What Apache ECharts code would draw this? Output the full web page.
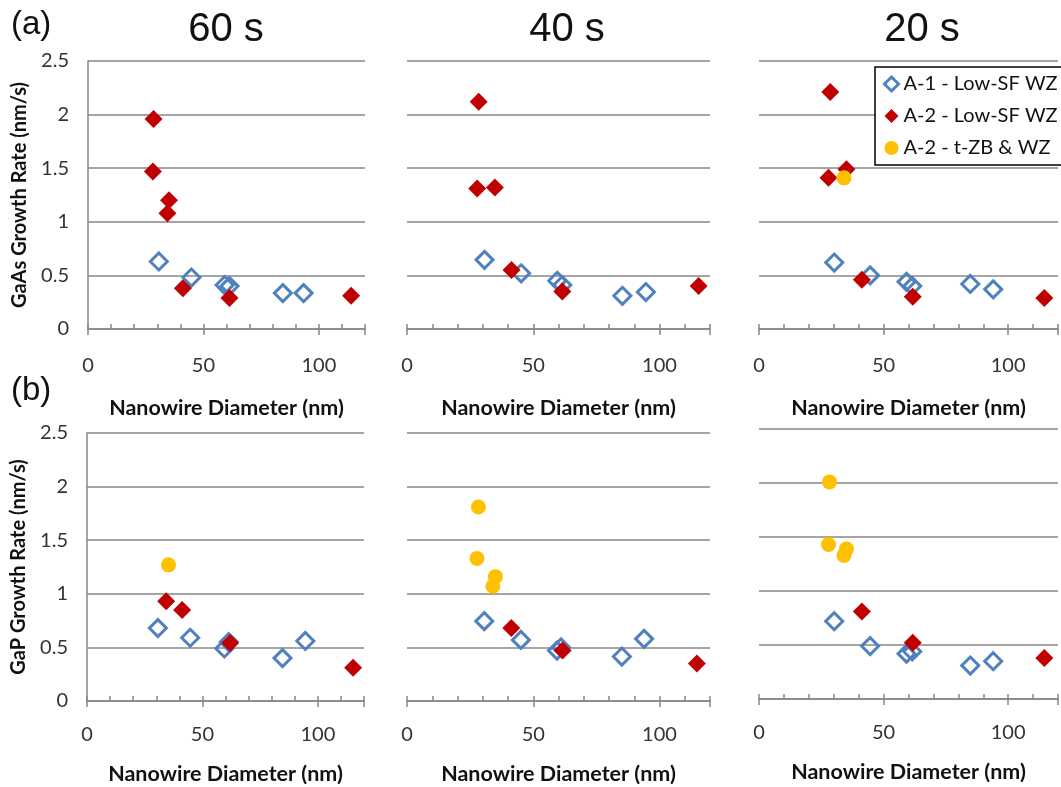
<!DOCTYPE html>
<html><head><meta charset="utf-8">
<script src="https://cdn.jsdelivr.net/npm/echarts@6/dist/echarts.min.js"></script>
<style>html,body{margin:0;padding:0;background:#fff}#c{width:1061px;height:787px}</style>
</head><body><div id="c"></div>
<script>
// ---- data ----
const seriesNames = ['A-1 - Low-SF WZ', 'A-2 - Low-SF WZ', 'A-2 - t-ZB & WZ'];
const timeLabels = ['60 s', '40 s', '20 s'];
const panelLabels = ['(a)', '(b)'];
const yAxisNames = ['GaAs Growth Rate (nm/s)', 'GaP Growth Rate (nm/s)'];
const xAxisName = 'Nanowire Diameter (nm)';
const xRange = [0, 120];
const yRange = [0, 2.5];

// GaAs (row a)
const gaas60_A1 = [[30.7,0.63],[44.8,0.48],[59.2,0.41],[61.3,0.40],[84.4,0.335],[93.4,0.335]];
const gaas60_A2 = [[28.4,1.96],[28.1,1.47],[35.1,1.20],[34.4,1.08],[41.1,0.38],[61.3,0.29],[114,0.31]];
const gaas60_A2t = [];
const gaas40_A1 = [[30.7,0.645],[45.2,0.52],[59.5,0.45],[61.5,0.41],[85.3,0.31],[94.6,0.345]];
const gaas40_A2 = [[28.4,2.12],[27.8,1.31],[34.8,1.32],[41.4,0.55],[61.5,0.35],[115.5,0.40]];
const gaas40_A2t = [];
const gaas20_A1 = [[30.2,0.62],[44.6,0.50],[59.2,0.44],[61.5,0.40],[84.8,0.42],[94.0,0.37]];
const gaas20_A2 = [[28.6,2.21],[27.9,1.41],[35.1,1.49],[41.3,0.46],[61.7,0.30],[114.5,0.29]];
const gaas20_A2t = [[34.1,1.41]];
// GaP (row b)
const gap60_A1 = [[30.7,0.68],[44.7,0.59],[59.5,0.49],[61.4,0.55],[84.7,0.40],[94.6,0.56]];
const gap60_A2 = [[34.3,0.93],[41.2,0.85],[62.0,0.54],[115.3,0.31]];
const gap60_A2t = [[35.3,1.27]];
const gap40_A1 = [[30.6,0.745],[45.1,0.57],[59.4,0.47],[61.0,0.50],[85.1,0.415],[93.9,0.58]];
const gap40_A2 = [[41.3,0.68],[61.6,0.47],[114.8,0.35]];
const gap40_A2t = [[28.3,1.81],[27.7,1.33],[35.0,1.16],[34.0,1.07]];
const gap20_A1 = [[30.2,0.72],[44.6,0.49],[59.2,0.42],[61.5,0.44],[84.8,0.31],[94.0,0.35]];
const gap20_A2 = [[41.3,0.81],[61.7,0.52],[114.5,0.38]];
const gap20_A2t = [[28.3,2.01],[27.9,1.43],[35.1,1.39],[34.1,1.33]];

const panels = [
  [gaas60_A1, gaas60_A2, gaas60_A2t],
  [gaas40_A1, gaas40_A2, gaas40_A2t],
  [gaas20_A1, gaas20_A2, gaas20_A2t],
  [gap60_A1, gap60_A2, gap60_A2t],
  [gap40_A1, gap40_A2, gap40_A2t],
  [gap20_A1, gap20_A2, gap20_A2t]
];

// ---- layout / style ----
const grids = [
  {left: 88, top: 61, width: 277, height: 268},
  {left: 407, top: 61, width: 303, height: 268},
  {left: 759, top: 61, width: 304, height: 268},
  {left: 87, top: 433, width: 277, height: 268},
  {left: 407, top: 433, width: 303, height: 268},
  {left: 759, top: 429, width: 304, height: 270}
];
const FONT = 'Lato';
const GRAY = '#878787';
const BLUE = '#4F81BD', RED = '#C00000', YELLOW = '#FFC000';

const xAxes = [], yAxes = [], series = [];
grids.forEach((g, i) => {
  const topRow = i < 3;
  xAxes.push({
    gridIndex: i, type: 'value', min: xRange[0], max: xRange[1], interval: 10,
    axisLine: {show: true, lineStyle: {color: GRAY, width: 1.5}},
    axisTick: {show: true, inside: true, length: 5, lineStyle: {color: GRAY, width: 1.5}},
    axisLabel: {show: false}, splitLine: {show: false}
  });
  xAxes.push({
    gridIndex: i, type: 'value', min: xRange[0], max: xRange[1], interval: 50,
    position: 'bottom', offset: 0,
    axisLine: {show: false},
    axisTick: {show: true, inside: false, length: 6, lineStyle: {color: GRAY, width: 1.5}},
    axisLabel: {show: true, margin: topRow ? 27 : 24, fontSize: 20, color: '#333', fontFamily: FONT,
      formatter: v => (v <= 100 ? String(v) : '')},
    splitLine: {show: false},
    name: xAxisName, nameLocation: 'middle', nameGap: topRow ? 68 : 62,
    nameTextStyle: {fontSize: 21.5, fontWeight: 'bold', color: '#111', fontFamily: FONT}
  });
  const first = (i % 3 === 0);
  yAxes.push({
    gridIndex: i, type: 'value', min: yRange[0], max: yRange[1], interval: 0.5,
    axisLine: {show: first, lineStyle: {color: GRAY, width: 1.5}},
    axisTick: {show: false},
    axisLabel: {show: first, margin: 19, fontSize: 20, color: '#333', fontFamily: FONT},
    splitLine: {show: true, lineStyle: {color: GRAY, width: 1.5}},
    name: first ? yAxisNames[topRow ? 0 : 1] : '',
    nameLocation: 'middle', nameGap: 58, nameRotate: 90,
    nameTextStyle: {fontSize: 20, fontWeight: 'bold', color: '#111', fontFamily: FONT}
  });
  const d = panels[i];
  series.push({
    name: seriesNames[0], type: 'scatter', xAxisIndex: 2 * i, yAxisIndex: i,
    symbol: 'diamond', symbolSize: 17, data: d[0],
    itemStyle: {color: 'rgba(255,255,255,0)', borderColor: BLUE, borderWidth: 3, opacity: 1}
  });
  series.push({
    name: seriesNames[1], type: 'scatter', xAxisIndex: 2 * i, yAxisIndex: i,
    symbol: 'diamond', symbolSize: 18, data: d[1],
    itemStyle: {color: RED, opacity: 1}
  });
  series.push({
    name: seriesNames[2], type: 'scatter', xAxisIndex: 2 * i, yAxisIndex: i,
    symbol: 'circle', symbolSize: 15, data: d[2],
    itemStyle: {color: YELLOW, opacity: 1}
  });
});

const graphic = [
  {type: 'text', left: 11, top: 8, style: {text: panelLabels[0], font: '33px "Liberation Sans"', fill: '#111'}},
  {type: 'text', left: 11, top: 374, style: {text: panelLabels[1], font: '33px "Liberation Sans"', fill: '#111'}},
  // legend frame (extends past the right edge, as in the reference)
  {type: 'rect', z: 3, shape: {x: 875, y: 67, width: 220, height: 98},
    style: {fill: '#fff', stroke: '#000', lineWidth: 1.5}}
];
const titleCenters = [226, 567, 922];
timeLabels.forEach((t, k) => {
  graphic.push({type: 'text', x: titleCenters[k], y: 30,
    style: {text: t, font: '40px "Liberation Sans"', fill: '#111', textAlign: 'center', textVerticalAlign: 'middle'}});
});

const chart = echarts.init(document.getElementById('c'), null, {renderer: 'canvas'});
chart.setOption({
  animation: false,
  backgroundColor: '#fff',
  grid: grids,
  xAxis: xAxes,
  yAxis: yAxes,
  series: series,
  graphic: graphic,
  legend: {
    orient: 'vertical', left: 875, top: 67, z: 5,
    data: [
      {name: seriesNames[0], icon: 'diamond', itemStyle: {color: 'rgba(255,255,255,0)', borderColor: BLUE, borderWidth: 3}},
      {name: seriesNames[1], icon: 'diamond', itemStyle: {color: RED}},
      {name: seriesNames[2], icon: 'circle', itemStyle: {color: YELLOW}}
    ],
    itemWidth: 14, itemHeight: 14, itemGap: 12,
    padding: [7, 10, 7, 8],
    borderWidth: 0, backgroundColor: 'transparent',
    textStyle: {fontSize: 20, color: '#111', fontFamily: FONT},
    selectedMode: false
  }
});
</script></body></html>
